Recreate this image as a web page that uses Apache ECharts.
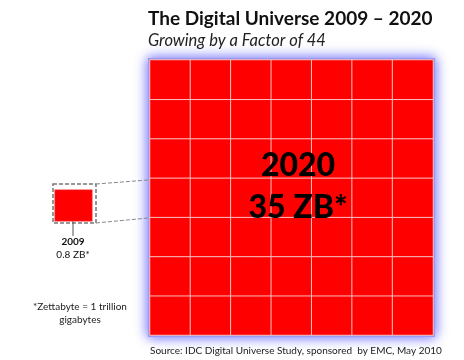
<!DOCTYPE html>
<html><head><meta charset="utf-8">
<script src="https://cdn.jsdelivr.net/npm/echarts@6/dist/echarts.min.js"></script>
<style>html,body{margin:0;padding:0;background:#fff}#c{width:464px;height:360px}</style>
</head><body><div id="c"></div>
<script>
const years = ['2009', '2020'];
const sizesZB = [0.8, 35];
const gridCols = ['c1','c2','c3','c4','c5','c6','c7'];
const gridRows = ['r1','r2','r3','r4','r5','r6','r7'];
const titleText = 'The Digital Universe 2009 \u2013 2020';
const subtitleText = 'Growing by a Factor of 44';
const footnote = '*Zettabyte = 1 trillion\ngigabytes';
const sourceText = 'Source: IDC Digital Universe Study, sponsored  by EMC, May 2010';

const bigCells = [];
gridCols.forEach((c, i) => gridRows.forEach((r, j) => bigCells.push([i, j, sizesZB[1]])));
const smallCells = [[0, 0, sizesZB[0]]];

const FONT = 'Lato, "Open Sans", sans-serif';
const chart = echarts.init(document.getElementById('c'));
chart.setOption({
  backgroundColor: '#fff',
  animation: false,
  title: {
    text: titleText, subtext: subtitleText,
    left: 143, top: 4, itemGap: 4,
    textStyle: {fontFamily: FONT, fontWeight: 'bold', fontSize: 19, color: '#111'},
    subtextStyle: {fontFamily: FONT, fontStyle: 'italic', fontSize: 16.5, color: '#222'}
  },
  grid: [
    {left: 150, top: 60, width: 283, height: 275, show: true, backgroundColor: '#f00',
     borderColor: '#9a9af5', borderWidth: 4, shadowBlur: 12, shadowColor: 'rgba(90,90,255,0.9)'},
    {left: 55, top: 190, width: 37, height: 31, show: false}
  ],
  xAxis: [
    {gridIndex: 0, type: 'category', data: gridCols, show: false},
    {gridIndex: 1, type: 'category', data: [years[0]], show: false}
  ],
  yAxis: [
    {gridIndex: 0, type: 'category', data: gridRows, show: false},
    {gridIndex: 1, type: 'category', data: [years[0]], show: false}
  ],
  series: [
    {type: 'heatmap', xAxisIndex: 0, yAxisIndex: 0, data: bigCells,
     itemStyle: {color: '#ff0000', borderColor: 'rgba(245,200,200,0.95)', borderWidth: 1}},
    {type: 'heatmap', xAxisIndex: 1, yAxisIndex: 1, data: smallCells,
     itemStyle: {color: '#ff0000', borderColor: '#ff5050', borderWidth: 0.5}}
  ],
  graphic: [
    {type: 'rect', shape: {x: 53, y: 184, width: 43, height: 39},
     style: {fill: 'none', stroke: '#777', lineWidth: 1.5, lineDash: [4, 2]}},
    {type: 'line', shape: {x1: 96, y1: 184, x2: 148, y2: 180},
     style: {stroke: '#888', lineWidth: 1, lineDash: [4, 2]}},
    {type: 'line', shape: {x1: 96, y1: 223, x2: 148, y2: 218},
     style: {stroke: '#888', lineWidth: 1, lineDash: [4, 2]}},
    {type: 'line', shape: {x1: 73, y1: 221, x2: 73, y2: 236},
     style: {stroke: '#555', lineWidth: 1}},
    {type: 'text', x: 73, y: 237, style: {text: years[0], font: 'bold 10px ' + FONT, fill: '#111', textAlign: 'center'}},
    {type: 'text', x: 73, y: 250, style: {text: sizesZB[0] + ' ZB*', font: '10px ' + FONT, fill: '#111', textAlign: 'center'}},
    {type: 'text', x: 80, y: 300, style: {text: footnote, font: '10px ' + FONT, fill: '#222', textAlign: 'center', lineHeight: 13}},
    {type: 'text', x: 298, y: 145, z: 100, style: {text: years[1] + '\n' + sizesZB[1] + ' ZB*', font: '900 32px ' + FONT, fill: '#000', textAlign: 'center', lineHeight: 42}},
    {type: 'text', x: 150, y: 346, style: {text: sourceText, font: '10px ' + FONT, fill: '#222'}}
  ]
});
</script></body></html>
